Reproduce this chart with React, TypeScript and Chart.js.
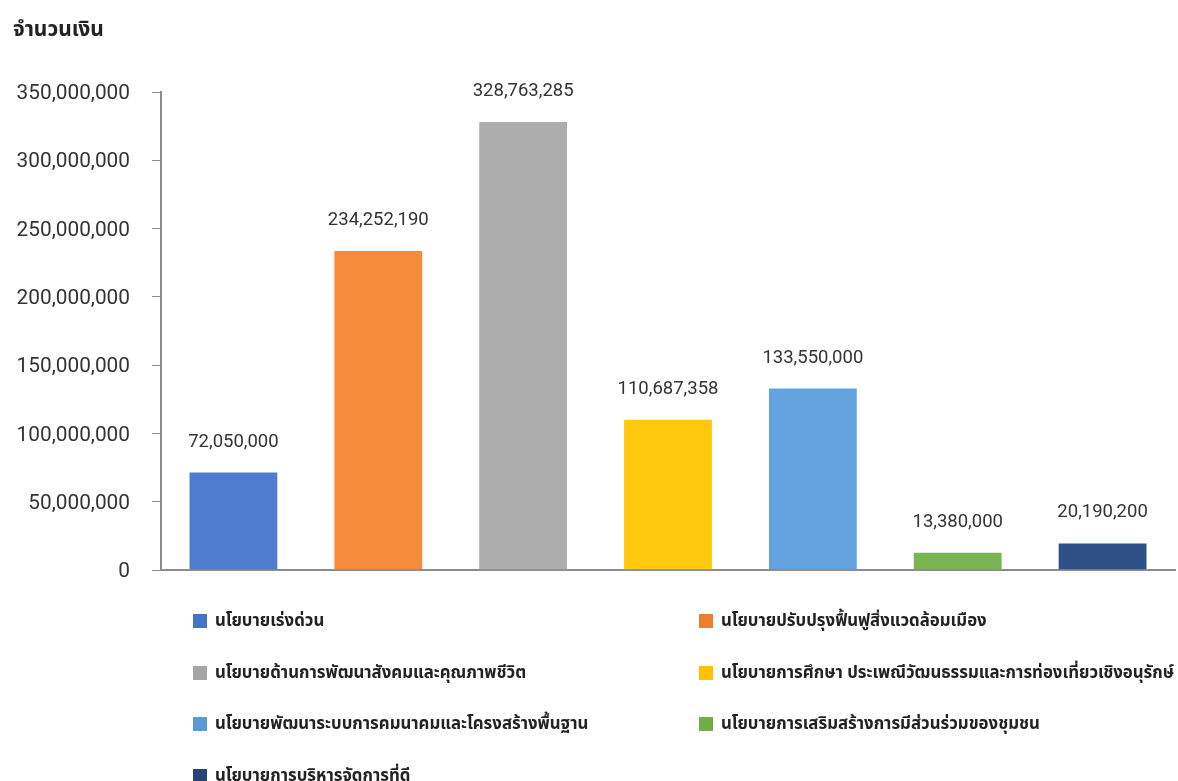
import React, { useEffect, useRef } from "react";
import { Chart, registerables } from "chart.js";

Chart.register(...registerables);

const categories: string[] = [
  "นโยบายเร่งด่วน",
  "นโยบายปรับปรุงฟื้นฟูสิ่งแวดล้อมเมือง",
  "นโยบายด้านการพัฒนาสังคมและคุณภาพชีวิต",
  "นโยบายการศึกษา ประเพณีวัฒนธรรมและการท่องเที่ยวเชิงอนุรักษ์",
  "นโยบายพัฒนาระบบการคมนาคมและโครงสร้างพื้นฐาน",
  "นโยบายการเสริมสร้างการมีส่วนร่วมของชุมชน",
  "นโยบายการบริหารจัดการที่ดี",
];

const amounts: number[] = [72050000, 234252190, 328763285, 110687358, 133550000, 13380000, 20190200];

const barColors: string[] = ["#4e7dcf", "#f68b3b", "#adadad", "#ffc90e", "#64a3e0", "#7ab552", "#2f5087"];
const legendColors: string[] = ["#4472c4", "#ed7d31", "#a5a5a5", "#ffc000", "#5b9bd5", "#70ad47", "#264478"];

const yAxisTitle = "จำนวนเงิน";
const yMax = 350000000;
const yStep = 50000000;

const thaiFont = "'Noto Sans Thai', 'Noto Sans', Tahoma, sans-serif";
const numFont = "Roboto, 'Noto Sans', sans-serif";

const fmt = (v: number) => v.toLocaleString("en-US");

export default function App() {
  const canvasRef = useRef<HTMLCanvasElement | null>(null);

  useEffect(() => {
    if (!canvasRef.current) return;
    const dataLabels = {
      id: "dataLabels",
      afterDatasetsDraw(chart: any) {
        const ctx = chart.ctx;
        const meta = chart.getDatasetMeta(0);
        ctx.save();
        ctx.font = `18.5px ${numFont}`;
        ctx.fillStyle = "#333333";
        ctx.textAlign = "center";
        ctx.textBaseline = "alphabetic";
        meta.data.forEach((bar: any, i: number) => {
          ctx.fillText(fmt(amounts[i]), bar.x, bar.y - 25);
        });
        ctx.restore();
      },
    };
    const chart = new Chart(canvasRef.current, {
      type: "bar",
      data: {
        labels: categories,
        datasets: [
          {
            data: amounts,
            backgroundColor: barColors,
            borderColor: "rgba(255,255,255,0.35)",
            borderWidth: 1,
            categoryPercentage: 1,
            barPercentage: 0.62,
          },
        ],
      },
      options: {
        animation: false,
        responsive: false,
        devicePixelRatio: 1,
        layout: { padding: { top: 92, right: 3, bottom: 211, left: 0 } },
        plugins: {
          legend: { display: false },
          tooltip: { enabled: false },
          title: { display: false },
        },
        scales: {
          x: {
            ticks: { display: false },
            grid: { display: false },
            border: { display: true, color: "#8c8c8c", width: 2 },
            afterFit: (s: any) => {
              s.height = 0;
            },
          },
          y: {
            min: 0,
            max: yMax,
            ticks: {
              stepSize: yStep,
              padding: 22,
              labelOffset: 2,
              color: "#333333",
              font: { family: numFont, size: 20.8 },
              callback: (v: any) => fmt(Number(v)),
            },
            grid: {
              display: true,
              drawOnChartArea: false,
              drawTicks: true,
              tickLength: 9,
              color: "#8c8c8c",
              lineWidth: 1,
            },
            border: { display: true, color: "#8c8c8c", width: 2 },
            afterFit: (s: any) => {
              s.width = 161;
            },
          },
        },
      },
      plugins: [dataLabels],
    });
    return () => chart.destroy();
  }, []);

  const rowY = [621, 672.5, 724, 775.5];
  const colX = [193, 699];

  return (
    <div style={{ position: "absolute", left: 0, top: 0, width: 1178, height: 781, background: "#fff", overflow: "hidden" }}>
      <canvas ref={canvasRef} width={1178} height={781} style={{ position: "absolute", left: 0, top: 0, width: 1178, height: 781 }} />
      <div
        style={{
          position: "absolute",
          left: 13,
          top: 14,
          fontFamily: thaiFont,
          fontWeight: 700,
          fontSize: 21,
          color: "#222222",
          lineHeight: "32px",
        }}
      >
        {yAxisTitle}
      </div>
      {categories.map((c, i) => {
        const col = i % 2;
        const row = Math.floor(i / 2);
        return (
          <div
            key={c}
            style={{
              position: "absolute",
              left: colX[col],
              top: rowY[row] - 16,
              height: 32,
              display: "flex",
              alignItems: "center",
              whiteSpace: "nowrap",
              fontFamily: thaiFont,
              fontWeight: 700,
              fontSize: 16.8,
              color: "#222222",
            }}
          >
            <span style={{ display: "inline-block", width: 14, height: 14, background: legendColors[i], marginRight: 8 }} />
            <span>{c}</span>
          </div>
        );
      })}
    </div>
  );
}
